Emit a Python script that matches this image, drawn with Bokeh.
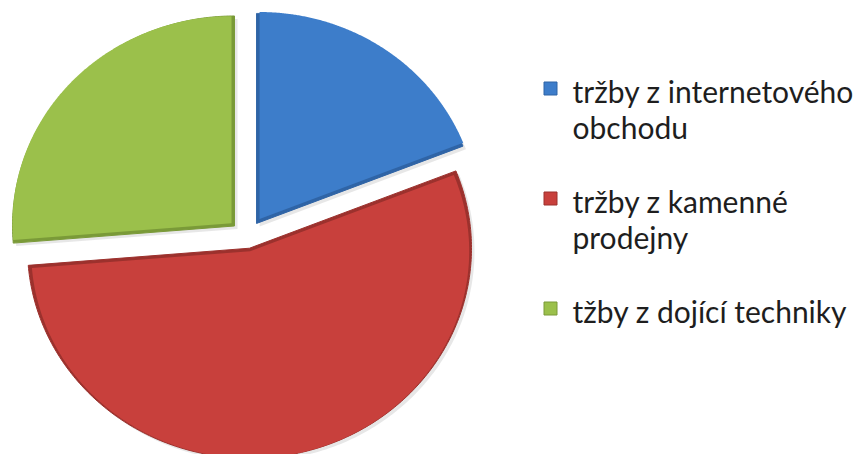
import numpy as np
from bokeh.plotting import figure
from bokeh.embed import file_html
from bokeh.resources import INLINE
from bokeh.core.properties import value

# ---- data ----
categories = ["tržby z internetového obchodu", "tržby z kamenné prodejny", "tžby z dojící techniky"]
legend_lines = [["tržby z internetového", "obchodu"], ["tržby z kamenné", "prodejny"], ["tžby z dojící techniky"]]
shares = [19.0, 54.7, 26.3]

# ---- style ----
colors = ["#3d7dca", "#c8403c", "#9bc04b"]
edge_colors = ["#2f64a6", "#9c312d", "#7a9a38"]
explode = [17, 11, 17]

W, H = 853, 454
p = figure(width=W, height=H, x_range=(0, W), y_range=(0, H),
           output_backend="svg", toolbar_location=None, min_border=0)
p.axis.visible = False
p.grid.visible = False
p.outline_line_color = None
p.background_fill_color = "white"
p.border_fill_color = "white"

cx, cy = 246.5, H - 237
rx, ry = 222, 210
inset = 3.0

frac = np.array(shares) / sum(shares)
ends = np.cumsum(frac) * 2 * np.pi
starts = ends - frac * 2 * np.pi


def wedge(vx, vy, a0, a1, rxx, ryy):
    t = np.linspace(a0, a1, 240)
    xs = np.concatenate([[vx], vx + rxx * np.sin(t)])
    ys = np.concatenate([[vy], vy + ryy * np.cos(t)])
    return list(xs), list(ys)


for i in range(len(shares)):
    s, e = starts[i], ends[i]
    mid = (s + e) / 2
    half = (e - s) / 2
    vx = cx + explode[i] * np.sin(mid)
    vy = cy + explode[i] * np.cos(mid)
    # soft shadow
    xs, ys = wedge(vx + 3, vy - 3, s, e, rx, ry)
    p.patch(xs, ys, fill_color="#7a7a7a", fill_alpha=0.18, line_color=None)
    # dark bevel rim
    xs, ys = wedge(vx, vy, s, e, rx, ry)
    p.patch(xs, ys, fill_color=edge_colors[i], line_color=edge_colors[i], line_width=1)
    # inner face
    shift = inset / max(np.sin(half), 0.3)
    ivx = vx + shift * np.sin(mid)
    ivy = vy + shift * np.cos(mid)
    xs, ys = wedge(ivx, ivy, s, e, rx - inset, ry - inset)
    p.patch(xs, ys, fill_color=colors[i], line_color=None)

# ---- legend ----
row_y = [90, 200, 310]
line_step = 36
mx, tx = 550, 572
for i, lines in enumerate(legend_lines):
    y0 = H - row_y[i]
    p.rect(x=[mx], y=[y0 + 2], width=13, height=13, width_units="screen", height_units="screen",
           fill_color=colors[i], line_color=edge_colors[i], line_width=1)
    ys = [y0 - k * line_step for k in range(len(lines))]
    p.text(x=[tx] * len(lines), y=ys, text=lines, text_font=value("Lato"),
           text_font_size="30px", text_baseline="middle", text_align="left",
           text_color="#1e1e1e")

open("out.html", "w").write(file_html(p, INLINE))
